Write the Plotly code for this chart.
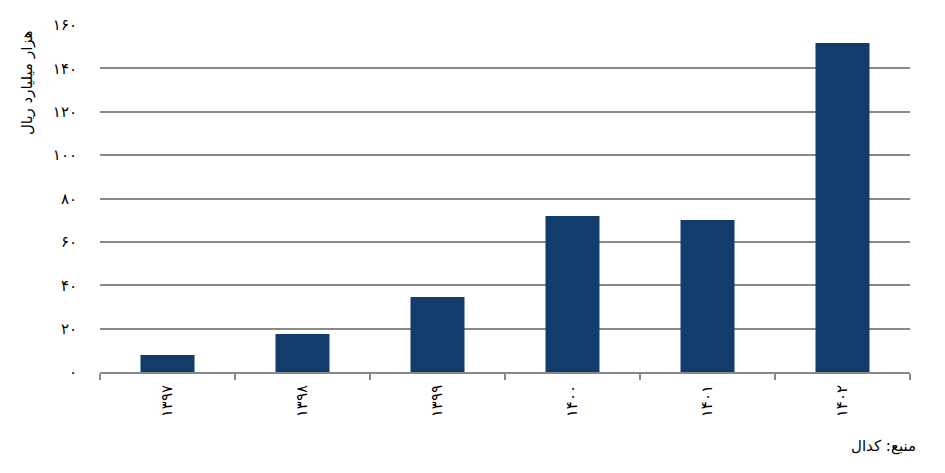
import plotly.graph_objects as go

years = ["۱۳۹۷", "۱۳۹۸", "۱۳۹۹", "۱۴۰۰", "۱۴۰۱", "۱۴۰۲"]
values = [7.8, 17.5, 34.6, 71.9, 70.1, 151.7]
y_ticks = [0, 20, 40, 60, 80, 100, 120, 140, 160]
y_tick_labels = ["۰", "۲۰", "۴۰", "۶۰", "۸۰", "۱۰۰", "۱۲۰", "۱۴۰", "۱۶۰"]

font_family = "DejaVu Sans, Noto Sans, sans-serif"

fig = go.Figure(go.Bar(x=years, y=values, marker=dict(color="#123c6c", line=dict(width=0))))

fig.update_layout(
    width=945, height=473,
    margin=dict(l=92, r=43, t=17, b=109, autoexpand=False),
    plot_bgcolor="white", paper_bgcolor="white",
    bargap=0.6,
    showlegend=False,
    font=dict(family=font_family, size=15, color="black"),
)
fig.update_xaxes(
    type="category",
    tickangle=-90,
    showline=True, linecolor="#898989", linewidth=2,
    ticks="outside", tickson="boundaries", ticklen=6, tickwidth=2, tickcolor="#898989",
    showgrid=False, automargin=False,
    ticklabelstandoff=5,
)
fig.update_yaxes(
    range=[0, 160],
    tickvals=y_ticks, ticktext=y_tick_labels,
    showgrid=True, gridcolor="#898989", gridwidth=2,
    zeroline=False, showline=False, automargin=False,
    ticklabelstandoff=22,
)
fig.add_annotation(
    text="هزار میلیارد ریال", textangle=-90,
    xref="paper", yref="paper", x=-0.09, y=0.99,
    xanchor="center", yanchor="top", showarrow=False,
    font=dict(size=15, family=font_family),
)
fig.add_annotation(
    text="منبع: کدال",
    xref="paper", yref="paper", x=1.01, y=-0.213,
    xanchor="right", yanchor="middle", showarrow=False,
    font=dict(size=15, family=font_family),
)
fig.write_html("out.html")
